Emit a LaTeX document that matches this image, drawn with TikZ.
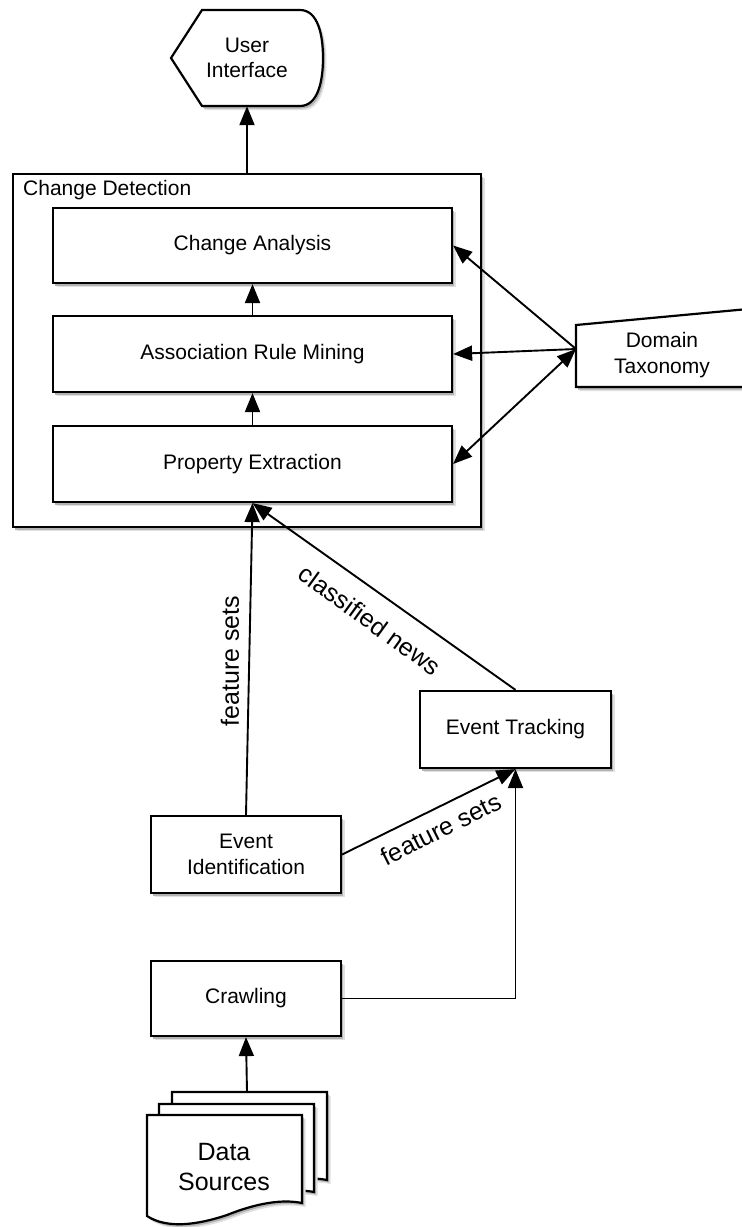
\documentclass[tikz,border=0pt]{standalone}
\usepackage{fontspec}
\setmainfont{Liberation Sans}
\usetikzlibrary{arrows.meta,shadows}

\tikzset{
  boxshadow/.style={
    drop shadow={shadow xshift=3.5pt,shadow yshift=-4pt,fill=black!12,opacity=1},
    drop shadow={shadow xshift=2pt,shadow yshift=-2.5pt,fill=black!30,opacity=1}},
  outline/.style={draw,line width=2.2pt,fill=white,boxshadow},
  block/.style={outline,align=center,inner sep=0pt,font=\fontsize{21}{25.5}\selectfont},
  txt/.style={align=center,inner sep=0pt,font=\fontsize{21}{25.5}\selectfont},
  arr/.style={line width=1.9pt,-{Triangle[length=19pt,width=15pt]}},
  biarr/.style={line width=1.9pt,{Triangle[length=19pt,width=15pt]}-{Triangle[length=19pt,width=15pt]}},
  lbl/.style={font=\fontsize{25}{30}\selectfont,inner sep=0pt},
}

% one sheet of the stacked document symbol, top-left corner at the origin
\newcommand{\docsheet}{(0,0) -- (155,0) -- (155,88)
  .. controls (135,84) and (110,88) .. (80,100)
  .. controls (50,110) and (20,114) .. (0,101) -- cycle}

\begin{document}
\begin{tikzpicture}[x=1pt,y=-1pt]
\useasboundingbox (0,0) rectangle (742,1227);

% user interface (display symbol)
\path[outline] (171,58) -- (202,10) -- (300,10)
  .. controls (318,10) and (323,35) .. (323,58)
  .. controls (323,81) and (318,106) .. (300,106) -- (202,106) -- cycle;
\node[txt,minimum width=152pt,minimum height=96pt] (ui) at (247,58) {User\\Interface};

% change detection container
\node[block,minimum width=468pt,minimum height=353pt] (cd) at (247,350.5) {};
\node[txt,anchor=base west] (cdlabel) at (23,195) {Change Detection};

\node[block,minimum width=399pt,minimum height=75pt] (ca) at (252.5,245.5) {Change Analysis};
\node[block,minimum width=399pt,minimum height=76pt] (arm) at (252.5,354) {Association Rule Mining};
\node[block,minimum width=399pt,minimum height=76pt] (pe) at (252.5,464) {Property Extraction};

% domain taxonomy (manual input symbol)
\path[outline] (576,325) -- (748,309) -- (748,387) -- (576,387) -- cycle;
\node[txt] (dt) at (662,355) {Domain\\Taxonomy};
\coordinate (dtw) at (576,349);

% processing steps
\node[block,minimum width=191pt,minimum height=77pt] (et) at (515.5,729.5) {Event Tracking};
\node[block,minimum width=190pt,minimum height=77pt] (ei) at (246,854.5) {Event\\Identification};
\node[block,minimum width=190pt,minimum height=75pt] (cr) at (246,998.5) {Crawling};

% data sources (stacked documents)
\path[outline,shift={(25,-23)}] [shift={(147,1115)}] \docsheet;
\path[outline,shift={(12,-11)}] [shift={(147,1115)}] \docsheet;
\path[outline] [shift={(147,1115)}] \docsheet;
\node[txt,font=\fontsize{25}{30}\selectfont] (ds) at (224,1167) {Data\\Sources};
\coordinate (dstop) at (247,1092);

% connectors
\draw[arr] (cd.north) -- (ui.south);
\draw[arr] (arm.north) -- (ca.south);
\draw[arr] (pe.north) -- (arm.south);
\draw[arr] (dtw) -- (ca.east);
\draw[arr] (dtw) -- (arm.east);
\draw[biarr] (pe.east) -- (dtw);
\draw[arr] (ei.north) -- (pe.south);
\draw[arr] (et.north) -- (pe.south);
\draw[arr] (ei.east) -- (et.south);
\draw[arr] (cr.east) -| (et.south);
\draw[arr] (dstop) -- (cr.south);

% connector labels
\node[lbl,rotate=90] (fsv) at (230,661) {feature sets};
\node[lbl,rotate=-36] (cn) at (370,620) {classified news};
\node[lbl,rotate=26.6] (fsd) at (441,829) {feature sets};
\end{tikzpicture}
\end{document}
